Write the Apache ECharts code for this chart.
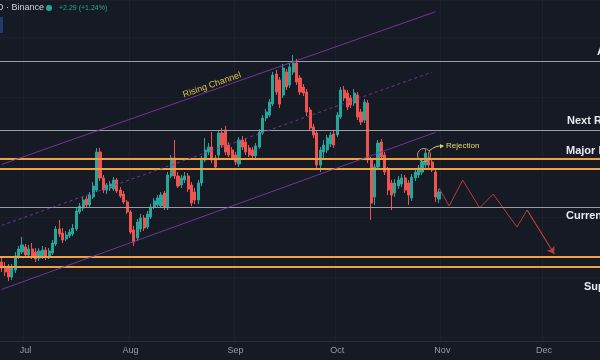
<!DOCTYPE html>
<html><head><meta charset="utf-8">
<script src="https://cdn.jsdelivr.net/npm/echarts/dist/echarts.min.js"></script>
<style>html,body{margin:0;padding:0;background:#161a25}#c{width:600px;height:360px}</style>
</head><body><div id="c"></div>
<script>
// ---- data ----
const startDate = '2023-06-24';
const dayCount = 177; // Jun 24 .. Dec 17
const monthLabels = ['Jan','Feb','Mar','Apr','May','Jun','Jul','Aug','Sep','Oct','Nov','Dec'];
// daily candles [open, close, low, high]
const candles = [
[157.5,154.5,152.5,159.5],[154.5,152.5,150.5,157.5],[155.5,150,148,156.5],[150,154.5,148.5,156.5],
[153.5,160.5,152,162.5],[160,164,159,165.5],[162.5,166,161.5,170],[165,161,159.5,166.5],
[161,164,159.5,166],[164,160.5,159,167],[162.5,159,157.5,164.5],[159.5,163,158,164.5],
[160.5,163.5,159,165.5],[163.5,160,158.5,165],[160,163,159,164.5],[162,167,161,168.5],
[166.5,174,165.5,175.5],[174,171.5,170,178.5],[172,168.5,167,174.5],[169,171,168,173],
[170.5,172.5,169.5,174],[171.5,174.5,170.5,176.5],[174,183,173,184.5],[182.5,185.5,181.5,187],
[184.5,188.5,183,190],[189,186,184.5,190.5],[186,191,185,192.5],[190,195.5,189,197.5],
[193.5,212.5,192.5,214.5],[212.5,199.5,198,214.5],[199.5,193.5,192,201],[193.5,196,191.5,197],
[194.5,196.5,193,198],[194,198.5,193,200],[198.5,193,192,199.5],[193.5,190.5,189.5,195],
[191.5,187.5,186.5,193],[187.5,182.5,181.5,188.5],[182.5,172.5,171.5,183.5],[173.5,167.5,165.5,175.5],
[169.5,177.5,168,179],[174,179.5,172.5,181.5],[179.5,174.5,173,181],[175,181.5,174,183],
[180,185,179,186.5],[185,188,184,189.5],[186,189.5,185,191],[185.5,191,184.5,192.5],
[192,185,183.5,193],[184.5,201,183.5,202.5],[200.5,209.5,199.5,211],[209.5,200.5,199,218.5],
[200.5,195.5,194.5,202.5],[196,199.5,194.5,201],[198.5,200.5,197,202.5],[200.5,194,192.5,202],
[196,187,185.5,197.5],[192.5,188.5,186.5,194.5],[188.5,197,186.5,198.5],[197,209.5,195.5,210.5],
[208.5,213.5,207.5,219.5],[212.5,215,211,217],[215,208.5,207,222.5],[209.5,205,203.5,211],
[211,222,209.5,223.5],[222,216,214.5,224.5],[223.5,212.5,211,225.5],[216,211,210,217.5],
[213.5,209.5,208.5,215],[211,207.5,206,212.5],[206.5,218.5,205,220],[218.5,215,213.5,220.5],
[217.5,212.5,211,219.5],[214.5,211,210,216],[213.5,210.5,209.5,215],[210.5,215.5,209.5,217],
[215,222.5,214,224],[222,229.5,221,231],[229.5,232.5,228,234],[231,237.5,230,239],
[236.5,251,235.5,252.5],[251.5,242.5,241,253.5],[248.5,236.5,234.5,250],[241,254.5,239.5,256.5],
[252.5,245,243.5,254],[246,255,244.5,257],[252.5,257,251,261],[257,247.5,246,259],
[249.5,242.5,241,251],[245,242,240.5,246.5],[242.5,232.5,230.5,244],[233.5,224.5,223,235],
[225,221,219.5,226.5],[222,206,203.5,223.5],[206,213.5,202.5,215],[212.5,216,208.5,218.5],
[213.5,219.5,212,221],[216.5,221,215,222.5],[221.5,216,214.5,223.5],[221,231,220,232.5],
[230,243.5,229,245],[243.5,239.5,238,245.5],[242,235,233.5,243.5],[239.5,236,234.5,241],
[237,242,235.5,244],[241,230,228.5,242.5],[232.5,227.5,226,234],[228.5,237.5,227,239],
[237,208.5,207,238.5],[208.5,187,178.5,210],[190,205,186,206.5],[205,217,203.5,218.5],
[217.5,210,208.5,219],[211,202.5,201,212.5],[203.5,193.5,191,205],[197,191,183.5,198.5],
[192,197,190,199],[195.5,198.5,194,200.5],[196.5,199.5,195,201.5],[199.5,193.5,192,201],
[197,191,186,198.5],[189.5,200,188,201.5],[199.5,202.5,198,204],[201,204.5,199.5,206],
[202.5,207.5,201,209],[206,212,204.5,214],[209.5,206,204.5,212.5],[207.5,203.5,202.5,209],
[202.5,190,187.5,204.5],[189,192.5,187,194]
];
const grayLevels = [258, 223.5, 185];
const orangeLevels = [209, 204, 160, 155];
const channelUpper = [['2023-06-24', 206.3], ['2023-10-30', 282.65]];
const channelMid   = [['2023-06-24', 175.8], ['2023-10-29', 252.45]];
const channelLower = [['2023-06-24', 143.8], ['2023-10-30', 222.35]];
const projDates  = ['2023-10-31','2023-11-03','2023-11-07','2023-11-12','2023-11-16','2023-11-23','2023-11-26','2023-12-04'];
const projPrices = [194.5, 185.5, 198.5, 184.5, 191.5, 175, 183.5, 161.5];
const levelNames = ['ATH', 'Next Resistance', 'Major Resistance', 'Current Price', 'Support'];

// ---- build ----
const categories = [];
const d0 = new Date(startDate + 'T00:00:00Z');
for (let i = 0; i < dayCount; i++) {
  categories.push(new Date(d0.getTime() + i * 86400000).toISOString().slice(0, 10));
}
const isMonthStart = (i, v) => v.slice(8) === '01';

const chart = echarts.init(document.getElementById('c'));
const purple = 'rgba(128,58,170,0.85)';
const chLine = (pair, dashed) => [
  {coord: pair[0], lineStyle: {color: purple, width: 1, type: dashed ? [3, 3] : 'solid'}},
  {coord: pair[1], lineStyle: {color: purple, width: 1, type: dashed ? [3, 3] : 'solid'}}
];
const txt = (text, x, y, font, fill, extra) => Object.assign({
  type: 'text', x: x, y: y, z: 100,
  style: {text: text, x: 0, y: 0, fill: fill, font: font, align: 'left', verticalAlign: 'middle'}
}, extra || {});

chart.setOption({
  animation: false,
  backgroundColor: '#161a25',
  grid: {left: 0, right: 0, top: 0, bottom: 19},
  xAxis: {
    type: 'category', data: categories, boundaryGap: true,
    axisLine: {lineStyle: {color: '#2a2e39'}},
    axisTick: {show: false},
    axisLabel: {interval: isMonthStart, formatter: v => monthLabels[+v.slice(5, 7) - 1],
      color: '#9a9da6', fontSize: 9, margin: 5, fontFamily: 'Liberation Sans'},
    splitLine: {show: true, interval: isMonthStart, lineStyle: {color: '#1d212c'}}
  },
  yAxis: {
    type: 'value', min: 118, max: 288.5, scale: true,
    axisLabel: {show: false}, axisLine: {show: false}, axisTick: {show: false},
    splitLine: {show: true, lineStyle: {color: '#1b1f2a'}}
  },
  series: [
    {
      type: 'candlestick', data: candles, barWidth: 2.6, z: 3,
      itemStyle: {color: '#26a69a', color0: '#ef5350', borderColor: '#26a69a', borderColor0: '#ef5350', borderWidth: 1},
      markLine: {
        symbol: 'none', silent: true, label: {show: false}, animation: false,
        data: [
          ...grayLevels.map(v => ({yAxis: v, lineStyle: {color: '#9a9ca6', width: 1, type: 'solid'}})),
          ...orangeLevels.map(v => ({yAxis: v, lineStyle: {color: '#f0a142', width: 2, type: 'solid'}})),
          chLine(channelUpper, false),
          chLine(channelMid, true),
          chLine(channelLower, false)
        ]
      }
    },
    {
      type: 'line', data: projDates.map((d, i) => [d, projPrices[i]]),
      symbol: 'none', z: 4,
      lineStyle: {color: '#b83c3c', width: 1},
      markLine: {
        symbol: ['none', 'arrow'], symbolSize: 7, silent: true, label: {show: false}, animation: false,
        lineStyle: {color: '#b83c3c', width: 1, type: 'solid'},
        data: [[{coord: [projDates[6], projPrices[6]]}, {coord: [projDates[7], projPrices[7]]}]]
      }
    }
  ],
  graphic: [
    {type: 'rect', shape: {x: 0, y: 17, width: 3, height: 16}, style: {fill: '#1f3c72'}, z: 100},
    txt('D · Binance', -3, 8, '9px Liberation Sans', '#d1d4dc'),
    {type: 'circle', shape: {cx: 49, cy: 8, r: 3}, style: {fill: '#22ab94'}, z: 100},
    txt('+2.29 (+1.24%)', 59, 8, '7px Liberation Sans', '#22ab94'),
    txt(levelNames[0], 597, 52, 'bold 11px Liberation Sans', '#e8e9ee'),
    txt(levelNames[1], 567, 121, 'bold 11px Liberation Sans', '#e8e9ee'),
    txt(levelNames[2], 566, 151, 'bold 11px Liberation Sans', '#e8e9ee'),
    txt(levelNames[3], 566, 216, 'bold 11px Liberation Sans', '#e8e9ee'),
    txt(levelNames[4], 584, 287, 'bold 11px Liberation Sans', '#e8e9ee'),
    {type: 'text', x: 212, y: 85, rotation: 0.34, z: 100,
      style: {text: 'Rising Channel', x: 0, y: 0, fill: '#dcc64c', font: '9px Liberation Sans', align: 'center', verticalAlign: 'middle'}},
    txt('Rejection', 446, 146, '8px Liberation Sans', '#e8dc6a'),
    {type: 'circle', shape: {cx: 424, cy: 155, r: 6.5}, style: {fill: 'none', stroke: 'rgba(205,175,125,0.85)', lineWidth: 1}, z: 100},
    {type: 'bezierCurve', shape: {x1: 429, y1: 151, cpx1: 436, cpy1: 145, x2: 443, y2: 146}, style: {stroke: '#d8cc70', lineWidth: 1, fill: 'none'}, z: 100},
    {type: 'polygon', shape: {points: [[444, 146], [440, 144], [440, 148.5]]}, style: {fill: '#d8cc70'}, z: 100}
  ]
});
</script></body></html>
